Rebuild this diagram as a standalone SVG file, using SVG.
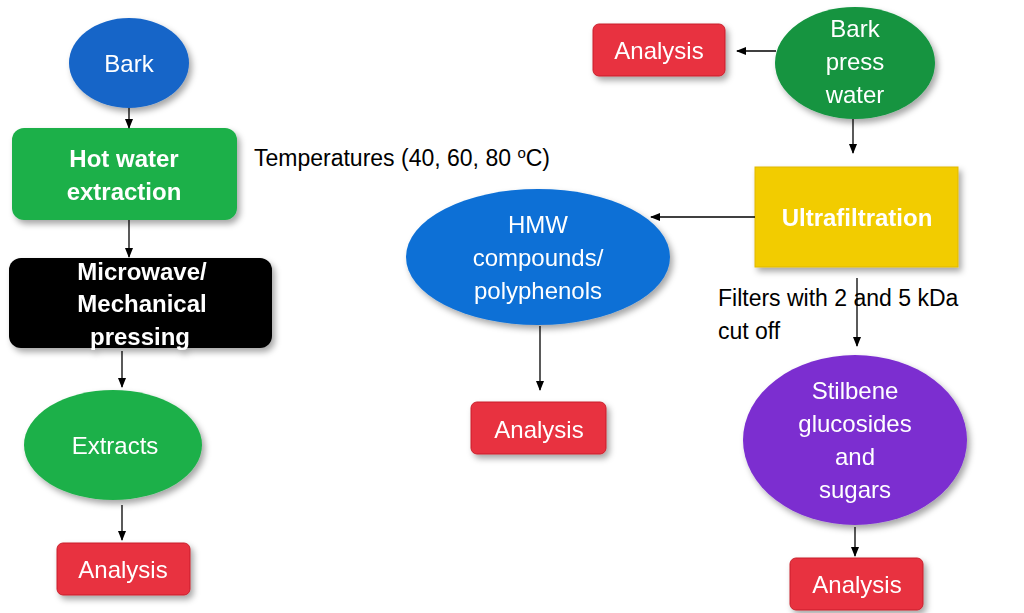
<svg xmlns="http://www.w3.org/2000/svg" width="1024" height="613" viewBox="0 0 1024 613">
<style>
text{font-family:"Liberation Sans",Arial,sans-serif;text-anchor:middle;fill:#fff;font-size:24px}
.b{font-weight:bold}
.lbl{fill:#000;text-anchor:start;font-size:23px}
.c line{stroke:#000;stroke-width:1.3;marker-end:url(#ah)}
.red{fill:#e8313f;stroke:#c81f2c}
</style>
<defs>
<marker id="ah" markerWidth="10" markerHeight="8" refX="9" refY="4" orient="auto" markerUnits="userSpaceOnUse"><path d="M0,0L10,4L0,8z" fill="#000"/></marker>
<filter id="sh" x="-20%" y="-20%" width="150%" height="150%"><feDropShadow dx="3" dy="4" stdDeviation="3" flood-opacity="0.35"/></filter>
</defs>
<g filter="url(#sh)">
<g id="bark"><ellipse cx="129" cy="63" rx="60" ry="45" fill="#1665c8"/><text x="129" y="72">Bark</text></g>
<g id="hotwater"><rect x="12" y="128" width="225" height="92" rx="12" fill="#1fb04a"/><text class="b" x="124" y="167">Hot water</text><text class="b" x="124" y="200">extraction</text></g>
<g id="micro"><rect x="9" y="258" width="263" height="90" rx="12" fill="#000"/><text class="b" x="142" y="280">Microwave/</text><text class="b" x="142" y="312">Mechanical</text><text class="b" x="140" y="345">pressing</text></g>
<g id="extracts"><ellipse cx="113" cy="445" rx="89" ry="55" fill="#1fb04a"/><text x="115" y="454">Extracts</text></g>
<g id="analysis1"><rect class="red" x="57" y="543" width="133" height="52" rx="6"/><text x="123" y="578">Analysis</text></g>
<g id="analysis2"><rect class="red" x="593" y="24" width="132" height="52" rx="6"/><text x="659" y="59">Analysis</text></g>
<g id="barkpress"><ellipse cx="855" cy="63" rx="80" ry="56" fill="#139440"/><text x="855" y="37">Bark</text><text x="855" y="70">press</text><text x="855" y="103">water</text></g>
<g id="ultra"><rect x="755" y="167" width="203" height="100" fill="#f2cc00" stroke="#e0b800"/><text class="b" x="857" y="226">Ultrafiltration</text></g>
<g id="hmw"><ellipse cx="538" cy="257" rx="132" ry="68" fill="#0a6fd6"/><text x="538" y="233">HMW</text><text x="538" y="266">compounds/</text><text x="538" y="299">polyphenols</text></g>
<g id="analysis3"><rect class="red" x="471" y="402" width="135" height="52" rx="6"/><text x="539" y="438">Analysis</text></g>
<g id="stilbene"><ellipse cx="855" cy="440" rx="112" ry="85" fill="#7b2fd0"/><text x="855" y="399">Stilbene</text><text x="855" y="432">glucosides</text><text x="855" y="465">and</text><text x="855" y="498">sugars</text></g>
<g id="analysis4"><rect class="red" x="790" y="558" width="133" height="52" rx="6"/><text x="857" y="593">Analysis</text></g>
</g>
<text class="lbl" x="254" y="166">Temperatures (40, 60, 80 <tspan font-size="15" dy="-8">o</tspan><tspan dy="8">C)</tspan></text>
<text class="lbl" x="718" y="306">Filters with 2 and 5 kDa</text>
<text class="lbl" x="718" y="339">cut off</text>
<g class="c">
<line x1="129" y1="108" x2="129" y2="128"/>
<line x1="129" y1="220" x2="129" y2="257"/>
<line x1="122" y1="351" x2="122" y2="387"/>
<line x1="122" y1="505" x2="122" y2="540"/>
<line x1="776" y1="51" x2="737" y2="51"/>
<line x1="853" y1="119" x2="853" y2="153"/>
<line x1="755" y1="217" x2="651" y2="217"/>
<line x1="540" y1="326" x2="540" y2="390"/>
<line x1="857" y1="278" x2="857" y2="346"/>
<line x1="855" y1="527" x2="855" y2="556"/>
</g>
</svg>
